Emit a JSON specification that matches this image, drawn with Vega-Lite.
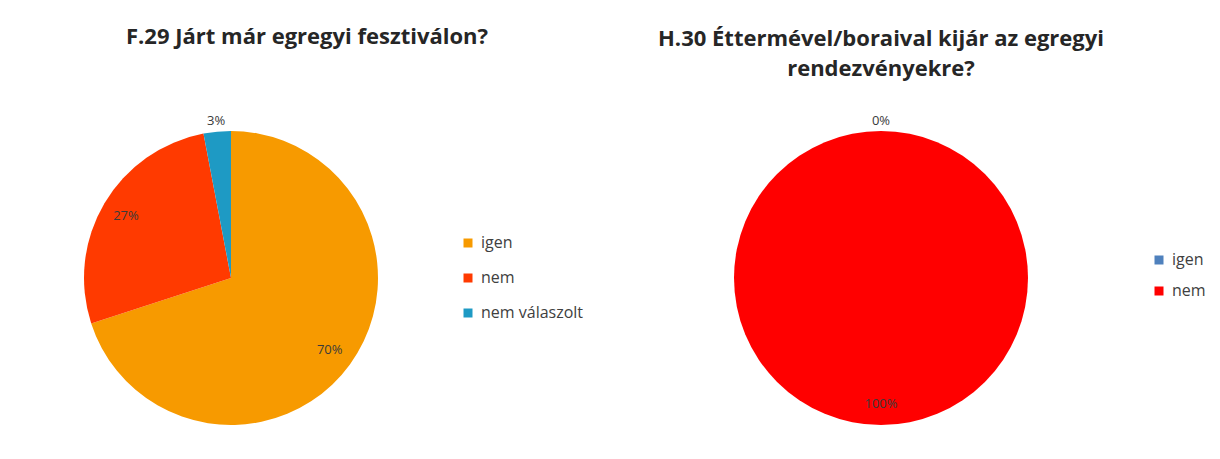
{
  "$schema": "https://vega.github.io/schema/vega-lite/v6.json",
  "background": "white",
  "padding": {"left": 82, "top": 25, "right": 5, "bottom": 5},
  "config": {
    "view": {"stroke": null},
    "font": "Open Sans",
    "title": {"font": "Open Sans", "fontSize": 22, "fontWeight": "bold", "color": "#262626", "anchor": "middle", "lineHeight": 30},
    "legend": {"labelFont": "Open Sans", "labelFontSize": 16, "labelColor": "#404040", "symbolType": "square", "symbolSize": 81, "symbolStrokeWidth": 0, "labelOffset": 5, "title": null}
  },
  "bounds": "flush",
  "spacing": 356,
  "resolve": {"scale": {"color": "independent"}},
  "hconcat": [
    {
      "width": 294,
      "height": 294,
      "title": {"text": "F.29 Járt már egregyi fesztiválon?", "offset": 66, "dx": 76},
      "data": {"values": [
        {"valasz": "igen", "v": 70},
        {"valasz": "nem", "v": 27},
        {"valasz": "nem válaszolt", "v": 3}
      ]},
      "transform": [{"calculate": "datum.v + '%'", "as": "label"}],
      "encoding": {
        "theta": {"field": "v", "type": "quantitative", "stack": true},
        "order": {"field": "v", "type": "quantitative", "sort": "descending"}
      },
      "layer": [
        {
          "mark": {"type": "arc"},
          "encoding": {
            "color": {"field": "valasz", "type": "nominal",
              "scale": {"domain": ["igen", "nem", "nem válaszolt"], "range": ["#F79A00", "#FF3A00", "#1E9AC4"]},
              "legend": {"orient": "none", "legendX": 376, "legendY": 104, "rowPadding": 19}}
          }
        },
        {
          "mark": {"type": "text", "radius": 122, "fontSize": 13, "fill": "#3a3a3a"},
          "encoding": {"text": {"field": "label"}, "opacity": {"condition": {"test": "datum.v < 10", "value": 0}, "value": 1}}
        },
        {
          "mark": {"type": "text", "radius": 158, "fontSize": 13, "fill": "#3a3a3a"},
          "encoding": {"text": {"field": "label"}, "opacity": {"condition": {"test": "datum.v < 10", "value": 1}, "value": 0}}
        }
      ]
    },
    {
      "width": 294,
      "height": 294,
      "title": {"text": ["H.30 Éttermével/boraival  kijár az egregyi", "rendezvényekre?"], "offset": 34},
      "data": {"values": [
        {"valasz": "igen", "v": 0},
        {"valasz": "nem", "v": 100}
      ]},
      "transform": [{"calculate": "datum.v + '%'", "as": "label"}],
      "encoding": {
        "theta": {"field": "v", "type": "quantitative", "stack": true},
        "order": {"field": "v", "type": "quantitative", "sort": "ascending"}
      },
      "layer": [
        {
          "mark": {"type": "arc"},
          "encoding": {
            "color": {"field": "valasz", "type": "nominal",
              "scale": {"domain": ["igen", "nem"], "range": ["#4F81BD", "#FF0000"]},
              "legend": {"orient": "none", "legendX": 417, "legendY": 121, "rowPadding": 15}}
          }
        },
        {
          "mark": {"type": "text", "radius": 126, "fontSize": 13, "fill": "#3a3a3a"},
          "encoding": {"text": {"field": "label"}, "opacity": {"condition": {"test": "datum.v < 10", "value": 0}, "value": 1}}
        },
        {
          "mark": {"type": "text", "radius": 157, "fontSize": 13, "fill": "#3a3a3a"},
          "encoding": {"text": {"field": "label"}, "opacity": {"condition": {"test": "datum.v < 10", "value": 1}, "value": 0}}
        }
      ]
    }
  ]
}
